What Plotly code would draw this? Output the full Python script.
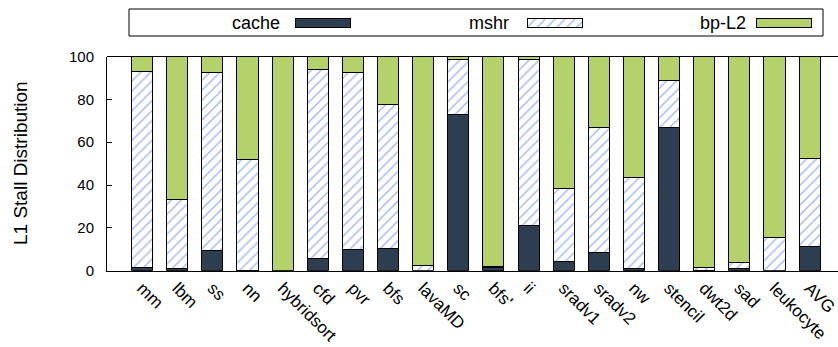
import plotly.graph_objects as go

# Per-benchmark L1 stall breakdown (percent of stalls)
benchmarks = ["mm", "lbm", "ss", "nn", "hybridsort", "cfd", "pvr", "bfs", "lavaMD", "sc",
              "bfs'", "ii", "sradv1", "sradv2", "nw", "stencil", "dwt2d", "sad", "leukocyte", "AVG"]
cache = [1.3, 0.9, 9.2, 0.3, 0.0, 5.8, 9.7, 10.4, 0.0, 72.7,
         1.6, 21.3, 4.2, 8.7, 1.1, 67.0, 0.3, 1.2, 0.0, 11.5]
mshr = [91.9, 32.4, 83.4, 51.4, 0.0, 87.9, 82.6, 67.4, 2.2, 26.1,
        0.2, 77.1, 34.4, 58.3, 42.6, 22.0, 1.1, 2.8, 15.3, 41.1]
bp_l2 = [6.8, 66.7, 7.4, 48.3, 100.0, 6.3, 7.7, 22.2, 97.8, 1.2,
         98.2, 1.6, 61.4, 33.0, 56.3, 11.0, 98.6, 96.0, 84.7, 47.4]
y_ticks = [0, 20, 40, 60, 80, 100]

series_names = ["cache", "mshr", "bp-L2"]

W, H = 838, 347
FONT = "Liberation Sans, Arial, Helvetica, sans-serif"
DARK = "#2c3e50"
GREEN = "#b5d16b"
HATCH = "#3f72d9"


def px_x(v):
    return v / W


def px_y(v):
    return 1 - v / H


# plot frame in pixels
px_left, px_top, px_bottom = 107, 56.5, 270.7
legend_bottom = 42

hatch = dict(shape="/", fgcolor=HATCH, bgcolor="white", size=7, solidity=0.2)
outline = dict(color="black", width=1)

fig = go.Figure()
xs = list(range(len(benchmarks)))
fig.add_trace(go.Bar(x=xs, y=cache, name=series_names[0], width=0.6,
                     marker=dict(color=DARK, line=outline)))
fig.add_trace(go.Bar(x=xs, y=mshr, name=series_names[1], width=0.6,
                     marker=dict(color="white", pattern=hatch, line=outline)))
fig.add_trace(go.Bar(x=xs, y=bp_l2, name=series_names[2], width=0.6,
                     marker=dict(color=GREEN, line=outline)))

# legend swatches: a separate pixel-space strip above the plot
swatch_x0 = [295, 527, 756]
swatch_w = 55
text_right = [282, 511, 748]
styles = [dict(color=DARK, line=outline),
          dict(color="white", pattern=hatch, line=outline),
          dict(color=GREEN, line=outline)]
for i in range(3):
    fig.add_trace(go.Bar(x=[swatch_w], y=[22.5], base=[swatch_x0[i]], orientation="h",
                         width=9, marker=styles[i], xaxis="x2", yaxis="y2",
                         showlegend=False, hoverinfo="skip"))
    fig.add_annotation(x=px_x(text_right[i]), y=px_y(22.5), xref="paper", yref="paper",
                       text=series_names[i], showarrow=False, xanchor="right", yanchor="middle",
                       font=dict(family=FONT, size=18, color="black"))

fig.add_shape(type="rect", xref="paper", yref="paper",
              x0=px_x(129), x1=px_x(823), y0=px_y(36), y1=px_y(9),
              line=dict(color="black", width=1), fillcolor="rgba(0,0,0,0)")

# axis title
fig.add_annotation(x=px_x(20), y=px_y(163), xref="paper", yref="paper",
                   text="L1 Stall Distribution", showarrow=False, textangle=-90,
                   xanchor="center", yanchor="middle",
                   font=dict(family=FONT, size=19, color="black"))

# top frame line
fig.add_shape(type="line", xref="paper", yref="paper", x0=px_x(px_left), x1=1,
              y0=px_y(px_top), y1=px_y(px_top), line=dict(color="black", width=1))

fig.update_layout(
    width=W, height=H,
    margin=dict(l=0, r=0, t=0, b=0, autoexpand=False),
    paper_bgcolor="white", plot_bgcolor="rgba(0,0,0,0)",
    barmode="stack", showlegend=False,
    font=dict(family=FONT, color="black"),
    xaxis=dict(domain=[px_x(px_left), 1], range=[-1.0, (W - px_left) / 35.13 - 1.0],
               tickmode="array", tickvals=xs, ticktext=benchmarks, tickangle=45,
               showline=True, linecolor="black", linewidth=1, mirror=False,
               showgrid=False, zeroline=False, ticks="", automargin=False,
               ticklabeloverflow="allow",
               tickfont=dict(family=FONT, size=17, color="black"), anchor="y"),
    yaxis=dict(domain=[px_y(px_bottom), px_y(px_top)], range=[0, 100],
               tickmode="array", tickvals=y_ticks, ticks="inside", ticklen=5, tickcolor="black",
               showline=True, linecolor="black", linewidth=1, showgrid=False, zeroline=False,
               automargin=False, ticklabelstandoff=9, ticklabeloverflow="allow",
               tickfont=dict(family=FONT, size=15, color="black"), anchor="x"),
    xaxis2=dict(domain=[0, 1], range=[0, W], visible=False, fixedrange=True, anchor="y2"),
    yaxis2=dict(domain=[px_y(legend_bottom), 1], range=[legend_bottom, 0], visible=False,
                fixedrange=True, anchor="x2"),
)

fig.write_html("out.html")
